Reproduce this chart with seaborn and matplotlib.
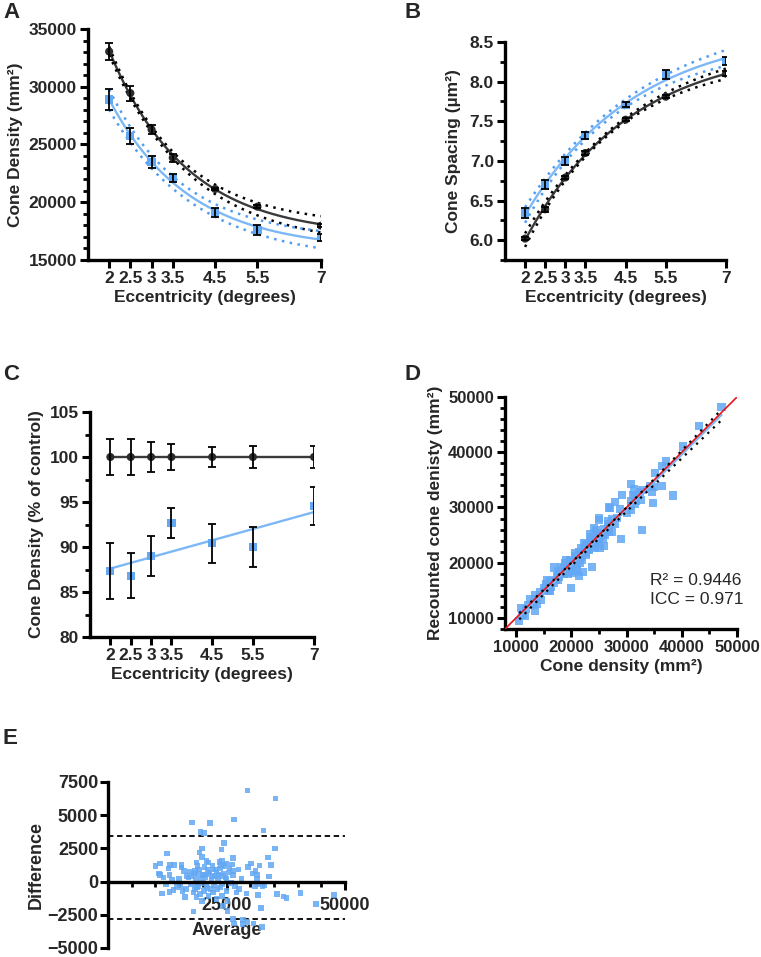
"""
Cone density / spacing figure (panels A-E), redrawn with seaborn + matplotlib.
"""
import numpy as np
import matplotlib
matplotlib.use("Agg")
import matplotlib.pyplot as plt
import seaborn as sns
from matplotlib.ticker import MultipleLocator, FixedLocator

sns.set_theme(style="ticks")
plt.rcParams['font.family'] = ['Liberation Sans', 'DejaVu Sans']
plt.rcParams['font.weight'] = 'bold'
plt.rcParams['axes.labelweight'] = 'bold'

DARK = "#2B2B2B"
BLUE = "#62A8F4"
BLUE_LINE = "#7DB8F6"
BLUE_DOT = "#4F9DF2"

# ---- data ----
ecc = [2, 2.5, 3, 3.5, 4.5, 5.5, 7]
ecc_labels = ["2", "2.5", "3", "3.5", "4.5", "5.5", "7"]

# A: cone density (cells/mm2)
a_ctrl = [33050, 29450, 26300, 23850, 21150, 19620, 17970]
a_ctrl_sem = [700, 650, 430, 370, 120, 120, 120]
a_ctrl_band = [350, 250, 250, 300, 400, 550, 700]
a_pat = [28900, 25750, 23450, 22070, 19130, 17600, 16960]
a_pat_sem = [900, 680, 520, 360, 400, 430, 330]
a_pat_band = [850, 700, 600, 550, 480, 600, 800]

# B: cone spacing
b_ctrl = [6.02, 6.39, 6.79, 7.10, 7.52, 7.81, 8.10]
b_ctrl_sem = [0.02, 0.03, 0.02, 0.02, 0.02, 0.02, 0.035]
b_ctrl_band = [0.09, 0.05, 0.03, 0.025, 0.03, 0.045, 0.06]
b_pat = [6.34, 6.70, 7.00, 7.32, 7.71, 8.09, 8.26]
b_pat_sem = [0.065, 0.06, 0.05, 0.04, 0.035, 0.055, 0.05]
b_pat_band = [0.10, 0.07, 0.05, 0.045, 0.05, 0.07, 0.10]

# C: density as % of control
c_ctrl = [100, 100, 100, 100, 100, 100, 100]
c_ctrl_sem = [2.0, 2.0, 1.7, 1.45, 1.1, 1.2, 1.2]
c_pat = [87.3, 86.8, 89.0, 92.7, 90.4, 90.0, 94.6]
c_pat_sem = [3.1, 2.5, 2.2, 1.65, 2.15, 2.25, 2.1]

# D/E: repeat counts, stored as Bland-Altman average / difference (original - recount)
ba_average = [29400, 35300, 17700, 21500, 26600, 19500, 20200, 32800, 35200, 24500,
              23900, 19800, 19300, 12400, 33700, 34400, 26400, 30200, 31100, 31400,
              31400, 10000, 11000, 10800, 11000, 13000, 13100, 13900, 15500, 15500,
              17300, 18300, 18700, 18900, 19800, 20800, 21200, 22200, 22900, 23500,
              23800, 24500, 25000, 25400, 26400, 26400, 16600, 17600, 18500, 20200,
              21200, 22600, 23300, 24000, 11400, 13000, 13800, 12200, 15200, 15700,
              16200, 16400, 18000, 18400, 18700, 19000, 19400, 19800, 20200, 20800,
              21200, 21700, 22200, 22900, 23600, 24100, 25000, 25200, 25200, 24300,
              26800, 27100, 27600, 29200, 31000, 31700, 32600, 32300, 31700, 35700,
              37000, 37700, 40600, 43900, 47700, 18000, 26600, 29400, 32500, 26400,
              28500, 28400, 30700, 17000, 17500, 18200, 18800, 19200, 19600, 20000,
              20400, 20600, 21000, 21400, 21800, 22000, 22400, 22800, 23200, 23600,
              24000, 24400, 24800, 25600, 26000, 19000, 20000, 21000, 22000, 23000,
              24000, 25000, 26200, 16000, 15000, 14500, 12800, 11700, 13500, 27500,
              28200, 29500, 30500, 32000, 33000, 34000]
ba_difference = [6875, 6250, 4450, 4425, 4675, 3725, 3675, 3850, 2500, 2925,
                 2425, 2500, 2175, 2125, 1825, 1250, 1775, 1375, 800, 500,
                 175, 1175, 1350, 600, 500, 500, 1250, 1250, 1250, 1050,
                 750, 800, 1425, 1175, 1850, 1550, 1425, 925, 675, 1475,
                 1250, 1175, 1350, 675, 800, 500, 425, 425, 225, 550,
                 550, 425, 550, 425, -900, -775, -650, -225, -275, -700,
                 -1150, -575, -825, -575, -1150, -325, -950, -1450, -700, -325,
                 -1075, -575, -825, -1325, -450, -1075, -700, -1450, -2200, -1825,
                 -325, -825, -575, -900, -325, -200, -325, -2000, -1000, -950,
                 -1125, -1250, -875, -1700, -1000, -2250, -3150, -3025, -3425, -2825,
                 -2900, -3200, -3150, 300, -200, 600, -400, 900, 200, -100,
                 1100, 300, -500, 700, 100, 1200, -300, 900, 200, 1000,
                 -200, 600, 300, 1000, -100, 600, 500, 900, 400, -600,
                 1600, 200, 1300, 800, 200, -400, 1000, 300, 100, 900,
                 200, 1100, 600, 1200, -300, 400]
limits_of_agreement = [3430, -2850]
r2_text = "R\u00b2 = 0.9446"
icc_text = "ICC = 0.971"

FIG_W, FIG_H = 761, 957


def axes_at(fig, left, top, right, bottom):
    return fig.add_axes([left / FIG_W, 1 - bottom / FIG_H,
                         (right - left) / FIG_W, (bottom - top) / FIG_H])


def style_axes(ax, size=12.5):
    ax.grid(False)
    for s in ['top', 'right']:
        ax.spines[s].set_visible(False)
    for s in ['left', 'bottom']:
        ax.spines[s].set_linewidth(2.4)
        ax.spines[s].set_color('black')
    ax.tick_params(which='major', direction='out', length=6, width=2.2,
                   color='black', labelsize=size, pad=2)
    ax.tick_params(which='minor', direction='out', length=3.5, width=2, color='black')


def exp_fit(x, y):
    # one-phase exponential y = a*exp(-k x) + c, k by grid search
    x = np.asarray(x, float)
    y = np.asarray(y, float)
    best = None
    for k in np.linspace(0.02, 3, 1500):
        X = np.column_stack([np.exp(-k * x), np.ones_like(x)])
        coef = np.linalg.lstsq(X, y, rcond=None)[0]
        sse = np.sum((X @ coef - y) ** 2)
        if best is None or sse < best[0]:
            best = (sse, k, coef)
    _, k, (a, c) = best
    return lambda t: a * np.exp(-k * t) + c


def curve_panel(ax, groups):
    xs = np.linspace(min(ecc), max(ecc), 200)
    for vals, sem, band, col, lcol, dcol, mk in groups:
        f = exp_fit(ecc, vals)
        sns.lineplot(x=xs, y=f(xs), ax=ax, color=lcol, lw=1.7, zorder=2)
        for sign in (1, -1):
            fb = exp_fit(ecc, np.array(vals) + sign * np.array(band))
            ax.plot(xs, fb(xs), color=dcol, ls=(0, (1, 2.2)), lw=1.8, zorder=2)
        sns.scatterplot(x=ecc, y=vals, ax=ax, marker=mk, s=34, color=col,
                        edgecolor='none', linewidth=0, zorder=3)
        ax.errorbar(ecc, vals, yerr=sem, fmt='none', ecolor='black',
                    elinewidth=1.3, capsize=3, capthick=1.3, zorder=4)
    ax.set_xlim(1.5, 7)
    ax.xaxis.set_major_locator(FixedLocator(ecc))
    ax.set_xticklabels(ecc_labels)
    ax.set_xlabel("Eccentricity (degrees)", fontsize=12.5, labelpad=3)


fig = plt.figure(figsize=(FIG_W / 100, FIG_H / 100), dpi=100)

# ---- A ----
axA = axes_at(fig, 88, 29, 321, 260)
curve_panel(axA, [
    (a_ctrl, a_ctrl_sem, a_ctrl_band, DARK, "#3A3A3A", 'black', 'o'),
    (a_pat, a_pat_sem, a_pat_band, BLUE, BLUE_LINE, BLUE_DOT, 's'),
])
axA.set_ylim(15000, 35000)
axA.yaxis.set_major_locator(MultipleLocator(5000))
axA.yaxis.set_minor_locator(MultipleLocator(1000))
axA.set_ylabel("Cone Density (mm\u00b2)", fontsize=12.5, labelpad=4)
style_axes(axA)

# ---- B ----
axB = axes_at(fig, 505, 42, 726, 260)
curve_panel(axB, [
    (b_ctrl, b_ctrl_sem, b_ctrl_band, DARK, "#3A3A3A", 'black', 'o'),
    (b_pat, b_pat_sem, b_pat_band, BLUE, BLUE_LINE, BLUE_DOT, 's'),
])
axB.set_ylim(5.75, 8.5)
axB.yaxis.set_major_locator(FixedLocator([6.0, 6.5, 7.0, 7.5, 8.0, 8.5]))
axB.yaxis.set_minor_locator(MultipleLocator(0.25))
axB.yaxis.set_major_formatter(plt.FormatStrFormatter('%.1f'))
axB.set_ylabel("Cone Spacing (\u00b5m\u00b2)", fontsize=12.5, labelpad=6)
style_axes(axB)

# ---- C ----
axC = axes_at(fig, 90, 412, 314, 637)
sns.regplot(x=ecc, y=c_ctrl, ax=axC, ci=None, scatter=False, truncate=True,
            line_kws=dict(color="#3A3A3A", lw=1.7))
sns.regplot(x=ecc, y=c_pat, ax=axC, ci=None, scatter=False, truncate=True,
            line_kws=dict(color=BLUE_LINE, lw=1.7))
for vals, sem, col, mk in [(c_ctrl, c_ctrl_sem, DARK, 'o'), (c_pat, c_pat_sem, BLUE, 's')]:
    sns.scatterplot(x=ecc, y=vals, ax=axC, marker=mk, s=34, color=col,
                    edgecolor='none', linewidth=0, zorder=3)
    axC.errorbar(ecc, vals, yerr=sem, fmt='none', ecolor='black',
                 elinewidth=1.3, capsize=3, capthick=1.3, zorder=4)
axC.set_xlim(1.5, 7)
axC.xaxis.set_major_locator(FixedLocator(ecc))
axC.set_xticklabels(ecc_labels)
axC.set_xlabel("Eccentricity (degrees)", fontsize=12.5, labelpad=3)
axC.set_ylim(80, 105)
axC.yaxis.set_major_locator(MultipleLocator(5))
axC.yaxis.set_minor_locator(MultipleLocator(2.5))
axC.set_ylabel("Cone Density (% of control)", fontsize=12.5, labelpad=4)
style_axes(axC)

# ---- D ----
avg = np.array(ba_average, float)
dif = np.array(ba_difference, float)
cone = avg + dif / 2
recount = avg - dif / 2

axD = axes_at(fig, 505, 397, 737, 629)
sns.scatterplot(x=cone, y=recount, ax=axD, marker='s', s=34, color=BLUE,
                alpha=0.85, edgecolor='none', linewidth=0, zorder=2)
axD.axline((0, 0), slope=1, color='#E8141B', lw=1.2, zorder=4)
slope, icpt = np.polyfit(cone, recount, 1)
xs = np.linspace(cone.min(), cone.max(), 100)
n = len(cone)
resid = recount - (slope * cone + icpt)
s = np.sqrt(np.sum(resid ** 2) / (n - 2))
se = s * np.sqrt(1 / n + (xs - cone.mean()) ** 2 / np.sum((cone - cone.mean()) ** 2))
sns.lineplot(x=xs, y=slope * xs + icpt, ax=axD, color=BLUE_LINE, lw=1.7, zorder=3)
for sign in (1, -1):
    axD.plot(xs, slope * xs + icpt + sign * 1.976 * se, color='black',
             ls=(0, (1, 2.5)), lw=1.6, zorder=5)
axD.set_xlim(8000, 50000)
axD.set_ylim(8000, 50000)
axD.xaxis.set_major_locator(FixedLocator([10000, 20000, 30000, 40000, 50000]))
axD.xaxis.set_minor_locator(MultipleLocator(5000))
axD.yaxis.set_major_locator(FixedLocator([10000, 20000, 30000, 40000, 50000]))
axD.yaxis.set_minor_locator(MultipleLocator(2000))
axD.set_xlabel("Cone density (mm\u00b2)", fontsize=12.5, labelpad=3)
axD.set_ylabel("Recounted cone denisty (mm\u00b2)", fontsize=12.5, labelpad=4)
axD.text(0.625, 0.21, r2_text, transform=axD.transAxes, fontsize=12.5,
         fontweight='normal', va='center', ha='left')
axD.text(0.625, 0.125, icc_text, transform=axD.transAxes, fontsize=12.5,
         fontweight='normal', va='center', ha='left')
style_axes(axD, size=12)

# ---- E ----
axE = axes_at(fig, 108, 782, 345, 948)
sns.scatterplot(x=avg, y=dif, ax=axE, marker='s', s=16, color=BLUE,
                alpha=0.85, edgecolor='none', linewidth=0, zorder=2)
for lim in limits_of_agreement:
    axE.axhline(lim, color='black', ls=(0, (3, 2)), lw=1.3, zorder=1)
axE.set_xlim(0, 50000)
axE.set_ylim(-5000, 7500)
axE.spines['bottom'].set_position(('data', 0))
axE.xaxis.set_major_locator(FixedLocator([25000, 50000]))
axE.xaxis.set_minor_locator(MultipleLocator(5000))
axE.yaxis.set_major_locator(MultipleLocator(2500))
axE.set_xlabel("Average", fontsize=13, labelpad=6)
axE.set_ylabel("Difference", fontsize=13, labelpad=2)
style_axes(axE, size=13)
axE.tick_params(axis='x', which='major', length=6, pad=5)
axE.tick_params(axis='y', which='major', pad=1)

# panel letters
for letter, px, py in [("A", 3, 12), ("B", 405, 12), ("C", 3, 375),
                       ("D", 405, 375), ("E", 3, 738)]:
    fig.text(px / FIG_W, 1 - py / FIG_H, letter, fontsize=16, fontweight='bold',
             va='center', ha='left')

fig.savefig("out.png", dpi=100)
